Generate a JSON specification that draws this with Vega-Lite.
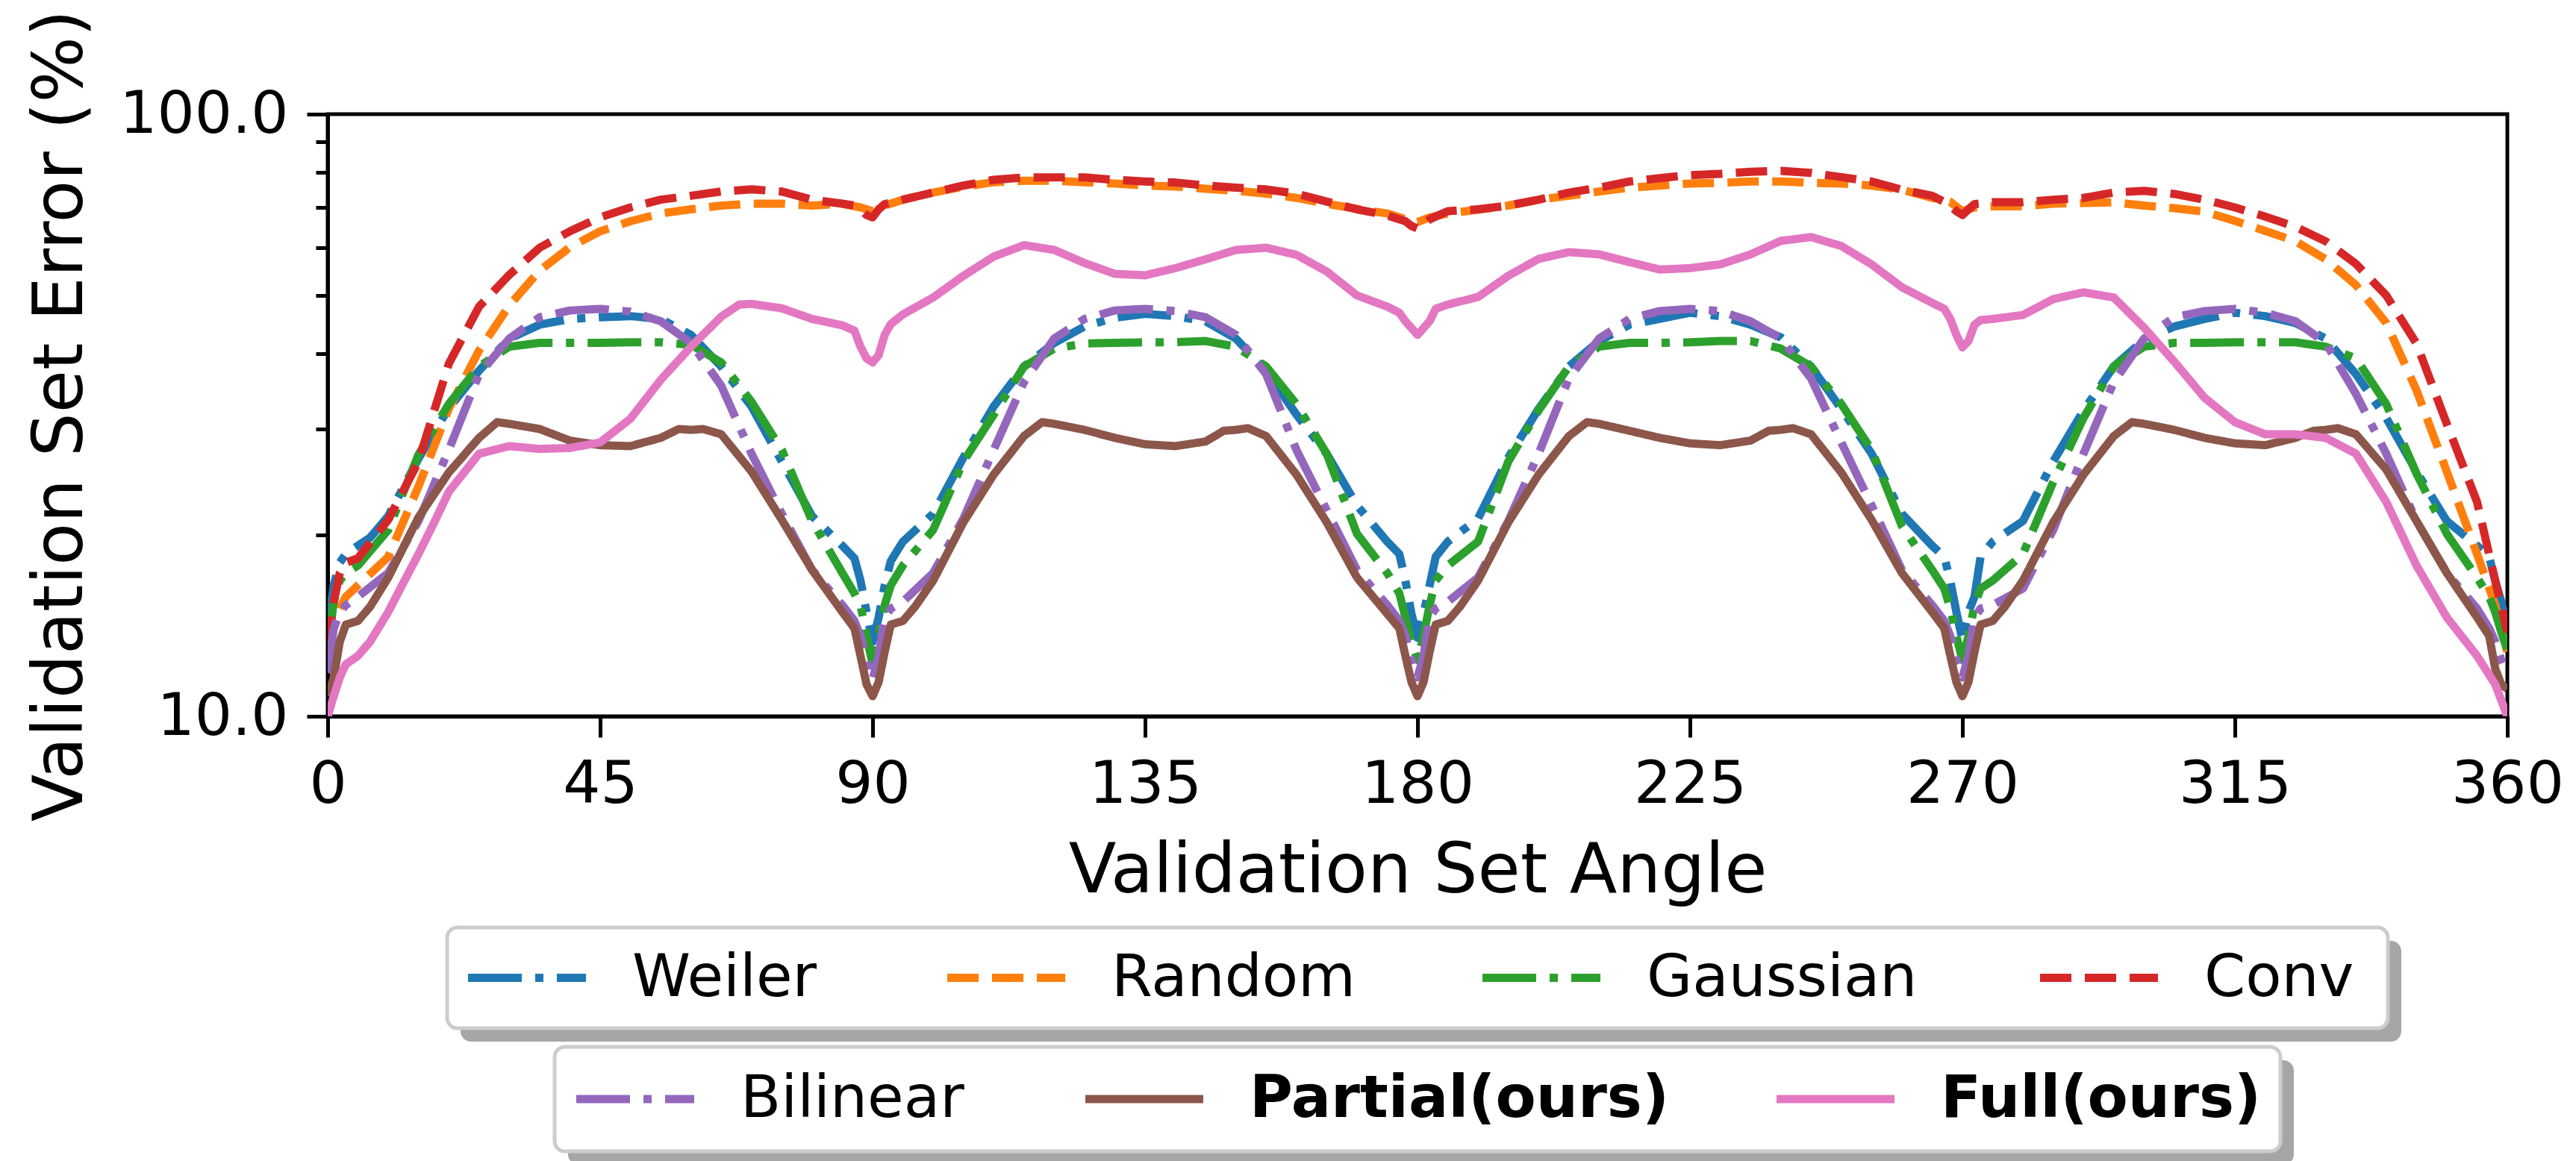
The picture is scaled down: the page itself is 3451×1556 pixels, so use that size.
{
  "$schema": "https://vega.github.io/schema/vega-lite/v6.json",
  "background": "white",
  "padding": {"left": 33, "top": 9, "right": 10, "bottom": 0},
  "spacing": 25,
  "center": true,
  "bounds": "flush",
  "config": {
    "font": "DejaVu Sans",
    "view": {"stroke": null},
    "axis": {"grid": false, "domainColor": "black", "domainWidth": 5, "tickColor": "black", "tickWidth": 5, "tickSize": 28, "labelColor": "black", "labelFontSize": 79, "labelFont": "DejaVu Sans", "labelLimit": 0, "maxExtent": 600, "titleColor": "black", "titleFontSize": 93, "titleFontWeight": "normal", "titleFont": "DejaVu Sans", "titleLimit": 0, "zindex": 1}
  },
  "vconcat": [
    {
      "width": 2920,
      "height": 807,
      "view": {"stroke": "black", "strokeWidth": 5},
      "data": {"values": [
{"s":"Weiler","a":0,"v":14.0},{"s":"Weiler","a":1,"v":16.5},{"s":"Weiler","a":2,"v":18.0},{"s":"Weiler","a":3,"v":18.6},{"s":"Weiler","a":5,"v":19.2},{"s":"Weiler","a":7,"v":19.8},{"s":"Weiler","a":10,"v":21.5},{"s":"Weiler","a":15,"v":26.8},{"s":"Weiler","a":20,"v":32.5},{"s":"Weiler","a":25,"v":37.5},{"s":"Weiler","a":30,"v":42.4},{"s":"Weiler","a":35,"v":44.7},{"s":"Weiler","a":40,"v":45.7},{"s":"Weiler","a":45,"v":46.0},{"s":"Weiler","a":50,"v":46.2},{"s":"Weiler","a":55,"v":45.7},{"s":"Weiler","a":60,"v":43.0},{"s":"Weiler","a":65,"v":38.1},{"s":"Weiler","a":70,"v":32.7},{"s":"Weiler","a":75,"v":26.5},{"s":"Weiler","a":80,"v":21.5},{"s":"Weiler","a":85,"v":19.2},{"s":"Weiler","a":87,"v":18.3},{"s":"Weiler","a":88,"v":16.8},{"s":"Weiler","a":89,"v":14.9},{"s":"Weiler","a":90,"v":13.3},{"s":"Weiler","a":91,"v":14.6},{"s":"Weiler","a":92,"v":16.5},{"s":"Weiler","a":93,"v":18.1},{"s":"Weiler","a":95,"v":19.5},{"s":"Weiler","a":100,"v":21.7},{"s":"Weiler","a":105,"v":26.9},{"s":"Weiler","a":110,"v":32.7},{"s":"Weiler","a":115,"v":38.1},{"s":"Weiler","a":120,"v":41.7},{"s":"Weiler","a":125,"v":44.4},{"s":"Weiler","a":130,"v":45.9},{"s":"Weiler","a":135,"v":46.6},{"s":"Weiler","a":140,"v":46.2},{"s":"Weiler","a":145,"v":45.3},{"s":"Weiler","a":150,"v":42.4},{"s":"Weiler","a":155,"v":37.5},{"s":"Weiler","a":160,"v":31.7},{"s":"Weiler","a":165,"v":27.3},{"s":"Weiler","a":170,"v":22.4},{"s":"Weiler","a":175,"v":19.5},{"s":"Weiler","a":177,"v":18.6},{"s":"Weiler","a":178,"v":16.8},{"s":"Weiler","a":179,"v":14.8},{"s":"Weiler","a":180,"v":13.5},{"s":"Weiler","a":181,"v":14.8},{"s":"Weiler","a":182,"v":16.5},{"s":"Weiler","a":183,"v":18.4},{"s":"Weiler","a":185,"v":19.5},{"s":"Weiler","a":190,"v":21.3},{"s":"Weiler","a":195,"v":26.9},{"s":"Weiler","a":200,"v":32.4},{"s":"Weiler","a":205,"v":38.1},{"s":"Weiler","a":210,"v":42.0},{"s":"Weiler","a":215,"v":44.7},{"s":"Weiler","a":220,"v":45.7},{"s":"Weiler","a":225,"v":46.8},{"s":"Weiler","a":230,"v":46.2},{"s":"Weiler","a":235,"v":44.7},{"s":"Weiler","a":240,"v":42.6},{"s":"Weiler","a":245,"v":38.1},{"s":"Weiler","a":250,"v":32.4},{"s":"Weiler","a":255,"v":27.3},{"s":"Weiler","a":260,"v":21.7},{"s":"Weiler","a":265,"v":19.2},{"s":"Weiler","a":267,"v":18.4},{"s":"Weiler","a":268,"v":16.8},{"s":"Weiler","a":269,"v":14.9},{"s":"Weiler","a":270,"v":13.4},{"s":"Weiler","a":271,"v":14.9},{"s":"Weiler","a":272,"v":15.8},{"s":"Weiler","a":273,"v":18.4},{"s":"Weiler","a":275,"v":19.5},{"s":"Weiler","a":280,"v":21.1},{"s":"Weiler","a":285,"v":26.5},{"s":"Weiler","a":290,"v":32.2},{"s":"Weiler","a":295,"v":38.1},{"s":"Weiler","a":300,"v":42.2},{"s":"Weiler","a":305,"v":44.4},{"s":"Weiler","a":310,"v":45.7},{"s":"Weiler","a":315,"v":46.8},{"s":"Weiler","a":320,"v":46.2},{"s":"Weiler","a":325,"v":45.0},{"s":"Weiler","a":330,"v":42.4},{"s":"Weiler","a":335,"v":37.0},{"s":"Weiler","a":340,"v":31.3},{"s":"Weiler","a":345,"v":25.5},{"s":"Weiler","a":350,"v":21.1},{"s":"Weiler","a":355,"v":19.2},{"s":"Weiler","a":357,"v":18.4},{"s":"Weiler","a":358,"v":16.8},{"s":"Weiler","a":359,"v":15.5},{"s":"Weiler","a":360,"v":14.0},
{"s":"Random","a":0,"v":12.8},{"s":"Random","a":1,"v":14.0},{"s":"Random","a":2,"v":15.1},{"s":"Random","a":3,"v":15.8},{"s":"Random","a":5,"v":16.5},{"s":"Random","a":10,"v":18.4},{"s":"Random","a":15,"v":24.1},{"s":"Random","a":20,"v":32.4},{"s":"Random","a":25,"v":40.5},{"s":"Random","a":30,"v":48.1},{"s":"Random","a":35,"v":55.0},{"s":"Random","a":40,"v":60.1},{"s":"Random","a":45,"v":63.9},{"s":"Random","a":50,"v":66.4},{"s":"Random","a":55,"v":68.4},{"s":"Random","a":60,"v":69.5},{"s":"Random","a":65,"v":70.5},{"s":"Random","a":70,"v":71.0},{"s":"Random","a":75,"v":71.0},{"s":"Random","a":80,"v":70.5},{"s":"Random","a":85,"v":71.0},{"s":"Random","a":88,"v":70.0},{"s":"Random","a":90,"v":69.0},{"s":"Random","a":92,"v":70.5},{"s":"Random","a":95,"v":72.1},{"s":"Random","a":100,"v":74.1},{"s":"Random","a":105,"v":75.8},{"s":"Random","a":110,"v":77.1},{"s":"Random","a":115,"v":77.5},{"s":"Random","a":120,"v":77.5},{"s":"Random","a":125,"v":77.1},{"s":"Random","a":130,"v":76.7},{"s":"Random","a":135,"v":76.1},{"s":"Random","a":140,"v":75.8},{"s":"Random","a":145,"v":75.2},{"s":"Random","a":150,"v":74.6},{"s":"Random","a":155,"v":73.8},{"s":"Random","a":160,"v":72.6},{"s":"Random","a":165,"v":71.0},{"s":"Random","a":170,"v":69.6},{"s":"Random","a":175,"v":68.4},{"s":"Random","a":178,"v":66.9},{"s":"Random","a":180,"v":66.2},{"s":"Random","a":182,"v":67.4},{"s":"Random","a":185,"v":68.4},{"s":"Random","a":190,"v":69.4},{"s":"Random","a":195,"v":70.5},{"s":"Random","a":200,"v":72.1},{"s":"Random","a":205,"v":73.2},{"s":"Random","a":210,"v":74.4},{"s":"Random","a":215,"v":75.5},{"s":"Random","a":220,"v":76.1},{"s":"Random","a":225,"v":76.7},{"s":"Random","a":230,"v":76.9},{"s":"Random","a":235,"v":77.3},{"s":"Random","a":240,"v":77.3},{"s":"Random","a":245,"v":76.9},{"s":"Random","a":250,"v":76.7},{"s":"Random","a":255,"v":76.1},{"s":"Random","a":260,"v":74.9},{"s":"Random","a":265,"v":72.6},{"s":"Random","a":268,"v":71.5},{"s":"Random","a":270,"v":69.0},{"s":"Random","a":272,"v":70.0},{"s":"Random","a":275,"v":70.3},{"s":"Random","a":280,"v":70.3},{"s":"Random","a":285,"v":71.0},{"s":"Random","a":290,"v":71.2},{"s":"Random","a":295,"v":71.4},{"s":"Random","a":300,"v":70.5},{"s":"Random","a":305,"v":69.8},{"s":"Random","a":310,"v":68.9},{"s":"Random","a":315,"v":66.5},{"s":"Random","a":320,"v":64.0},{"s":"Random","a":325,"v":61.5},{"s":"Random","a":330,"v":57.4},{"s":"Random","a":335,"v":52.0},{"s":"Random","a":340,"v":45.0},{"s":"Random","a":345,"v":34.8},{"s":"Random","a":350,"v":25.5},{"s":"Random","a":355,"v":18.6},{"s":"Random","a":358,"v":15.3},{"s":"Random","a":360,"v":12.8},
{"s":"Gaussian","a":0,"v":12.9},{"s":"Gaussian","a":1,"v":15.5},{"s":"Gaussian","a":2,"v":16.8},{"s":"Gaussian","a":3,"v":17.3},{"s":"Gaussian","a":5,"v":17.8},{"s":"Gaussian","a":10,"v":20.4},{"s":"Gaussian","a":15,"v":27.2},{"s":"Gaussian","a":20,"v":33.0},{"s":"Gaussian","a":25,"v":38.1},{"s":"Gaussian","a":30,"v":41.1},{"s":"Gaussian","a":35,"v":41.7},{"s":"Gaussian","a":40,"v":41.7},{"s":"Gaussian","a":45,"v":41.7},{"s":"Gaussian","a":50,"v":41.8},{"s":"Gaussian","a":55,"v":41.8},{"s":"Gaussian","a":60,"v":41.4},{"s":"Gaussian","a":65,"v":38.7},{"s":"Gaussian","a":70,"v":33.3},{"s":"Gaussian","a":75,"v":27.7},{"s":"Gaussian","a":80,"v":21.1},{"s":"Gaussian","a":85,"v":17.3},{"s":"Gaussian","a":87,"v":16.0},{"s":"Gaussian","a":88,"v":15.3},{"s":"Gaussian","a":89,"v":13.6},{"s":"Gaussian","a":90,"v":12.2},{"s":"Gaussian","a":91,"v":13.6},{"s":"Gaussian","a":92,"v":15.3},{"s":"Gaussian","a":93,"v":16.5},{"s":"Gaussian","a":95,"v":17.8},{"s":"Gaussian","a":100,"v":20.4},{"s":"Gaussian","a":105,"v":26.5},{"s":"Gaussian","a":110,"v":31.7},{"s":"Gaussian","a":115,"v":38.1},{"s":"Gaussian","a":120,"v":40.8},{"s":"Gaussian","a":125,"v":41.6},{"s":"Gaussian","a":130,"v":41.7},{"s":"Gaussian","a":135,"v":41.8},{"s":"Gaussian","a":140,"v":41.8},{"s":"Gaussian","a":145,"v":42.0},{"s":"Gaussian","a":150,"v":41.1},{"s":"Gaussian","a":155,"v":38.1},{"s":"Gaussian","a":160,"v":33.0},{"s":"Gaussian","a":165,"v":27.3},{"s":"Gaussian","a":170,"v":20.1},{"s":"Gaussian","a":175,"v":17.3},{"s":"Gaussian","a":177,"v":16.0},{"s":"Gaussian","a":178,"v":14.6},{"s":"Gaussian","a":179,"v":13.3},{"s":"Gaussian","a":180,"v":12.4},{"s":"Gaussian","a":181,"v":13.6},{"s":"Gaussian","a":182,"v":15.3},{"s":"Gaussian","a":183,"v":16.8},{"s":"Gaussian","a":185,"v":17.8},{"s":"Gaussian","a":190,"v":19.5},{"s":"Gaussian","a":195,"v":26.5},{"s":"Gaussian","a":200,"v":32.2},{"s":"Gaussian","a":205,"v":38.1},{"s":"Gaussian","a":210,"v":41.1},{"s":"Gaussian","a":215,"v":41.7},{"s":"Gaussian","a":220,"v":41.7},{"s":"Gaussian","a":225,"v":41.8},{"s":"Gaussian","a":230,"v":42.0},{"s":"Gaussian","a":235,"v":42.0},{"s":"Gaussian","a":240,"v":40.8},{"s":"Gaussian","a":245,"v":38.1},{"s":"Gaussian","a":250,"v":33.0},{"s":"Gaussian","a":255,"v":27.7},{"s":"Gaussian","a":260,"v":20.7},{"s":"Gaussian","a":265,"v":17.5},{"s":"Gaussian","a":267,"v":16.3},{"s":"Gaussian","a":268,"v":15.1},{"s":"Gaussian","a":269,"v":13.6},{"s":"Gaussian","a":270,"v":12.4},{"s":"Gaussian","a":271,"v":13.6},{"s":"Gaussian","a":272,"v":15.3},{"s":"Gaussian","a":273,"v":16.3},{"s":"Gaussian","a":275,"v":16.8},{"s":"Gaussian","a":280,"v":18.6},{"s":"Gaussian","a":285,"v":24.5},{"s":"Gaussian","a":290,"v":31.3},{"s":"Gaussian","a":295,"v":38.1},{"s":"Gaussian","a":300,"v":41.1},{"s":"Gaussian","a":305,"v":41.7},{"s":"Gaussian","a":310,"v":41.7},{"s":"Gaussian","a":315,"v":41.8},{"s":"Gaussian","a":320,"v":41.8},{"s":"Gaussian","a":325,"v":41.8},{"s":"Gaussian","a":330,"v":41.1},{"s":"Gaussian","a":335,"v":39.3},{"s":"Gaussian","a":340,"v":33.0},{"s":"Gaussian","a":345,"v":25.3},{"s":"Gaussian","a":350,"v":20.1},{"s":"Gaussian","a":355,"v":17.0},{"s":"Gaussian","a":357,"v":15.8},{"s":"Gaussian","a":358,"v":14.9},{"s":"Gaussian","a":359,"v":13.8},{"s":"Gaussian","a":360,"v":12.9},
{"s":"Conv","a":0,"v":13.0},{"s":"Conv","a":1,"v":15.5},{"s":"Conv","a":2,"v":17.3},{"s":"Conv","a":3,"v":18.0},{"s":"Conv","a":5,"v":18.3},{"s":"Conv","a":10,"v":21.2},{"s":"Conv","a":15,"v":26.5},{"s":"Conv","a":20,"v":38.5},{"s":"Conv","a":25,"v":47.9},{"s":"Conv","a":30,"v":54.1},{"s":"Conv","a":35,"v":60.0},{"s":"Conv","a":40,"v":63.9},{"s":"Conv","a":45,"v":67.4},{"s":"Conv","a":50,"v":70.0},{"s":"Conv","a":55,"v":72.1},{"s":"Conv","a":60,"v":73.2},{"s":"Conv","a":65,"v":74.4},{"s":"Conv","a":70,"v":75.0},{"s":"Conv","a":75,"v":74.4},{"s":"Conv","a":80,"v":72.1},{"s":"Conv","a":85,"v":71.0},{"s":"Conv","a":87,"v":70.5},{"s":"Conv","a":88,"v":69.4},{"s":"Conv","a":89,"v":68.0},{"s":"Conv","a":90,"v":67.4},{"s":"Conv","a":91,"v":69.5},{"s":"Conv","a":92,"v":70.9},{"s":"Conv","a":95,"v":72.1},{"s":"Conv","a":100,"v":74.1},{"s":"Conv","a":105,"v":76.1},{"s":"Conv","a":110,"v":77.8},{"s":"Conv","a":115,"v":78.5},{"s":"Conv","a":120,"v":78.5},{"s":"Conv","a":125,"v":78.5},{"s":"Conv","a":130,"v":77.8},{"s":"Conv","a":135,"v":77.3},{"s":"Conv","a":140,"v":77.0},{"s":"Conv","a":145,"v":76.1},{"s":"Conv","a":150,"v":75.5},{"s":"Conv","a":155,"v":75.0},{"s":"Conv","a":160,"v":73.8},{"s":"Conv","a":165,"v":71.6},{"s":"Conv","a":170,"v":69.5},{"s":"Conv","a":175,"v":67.9},{"s":"Conv","a":178,"v":66.4},{"s":"Conv","a":179,"v":65.2},{"s":"Conv","a":180,"v":64.6},{"s":"Conv","a":181,"v":65.5},{"s":"Conv","a":182,"v":66.9},{"s":"Conv","a":185,"v":69.0},{"s":"Conv","a":190,"v":69.5},{"s":"Conv","a":195,"v":70.5},{"s":"Conv","a":200,"v":72.1},{"s":"Conv","a":205,"v":74.1},{"s":"Conv","a":210,"v":75.5},{"s":"Conv","a":215,"v":77.3},{"s":"Conv","a":220,"v":78.3},{"s":"Conv","a":225,"v":79.2},{"s":"Conv","a":230,"v":79.6},{"s":"Conv","a":235,"v":80.2},{"s":"Conv","a":240,"v":80.5},{"s":"Conv","a":245,"v":79.9},{"s":"Conv","a":250,"v":78.6},{"s":"Conv","a":255,"v":77.3},{"s":"Conv","a":260,"v":74.9},{"s":"Conv","a":265,"v":73.2},{"s":"Conv","a":267,"v":71.5},{"s":"Conv","a":268,"v":70.5},{"s":"Conv","a":269,"v":69.0},{"s":"Conv","a":270,"v":68.0},{"s":"Conv","a":271,"v":69.5},{"s":"Conv","a":272,"v":70.9},{"s":"Conv","a":275,"v":71.4},{"s":"Conv","a":280,"v":71.4},{"s":"Conv","a":285,"v":72.1},{"s":"Conv","a":290,"v":72.6},{"s":"Conv","a":295,"v":74.1},{"s":"Conv","a":300,"v":74.6},{"s":"Conv","a":305,"v":73.7},{"s":"Conv","a":310,"v":72.1},{"s":"Conv","a":315,"v":70.0},{"s":"Conv","a":320,"v":67.6},{"s":"Conv","a":325,"v":65.0},{"s":"Conv","a":330,"v":61.5},{"s":"Conv","a":335,"v":56.4},{"s":"Conv","a":340,"v":50.0},{"s":"Conv","a":345,"v":41.6},{"s":"Conv","a":350,"v":30.6},{"s":"Conv","a":355,"v":22.7},{"s":"Conv","a":358,"v":16.8},{"s":"Conv","a":360,"v":13.8},
{"s":"Bilinear","a":0,"v":11.8},{"s":"Bilinear","a":1,"v":14.0},{"s":"Bilinear","a":2,"v":14.9},{"s":"Bilinear","a":3,"v":15.3},{"s":"Bilinear","a":5,"v":15.8},{"s":"Bilinear","a":10,"v":17.3},{"s":"Bilinear","a":15,"v":21.1},{"s":"Bilinear","a":20,"v":27.7},{"s":"Bilinear","a":25,"v":37.0},{"s":"Bilinear","a":30,"v":42.4},{"s":"Bilinear","a":35,"v":46.0},{"s":"Bilinear","a":40,"v":47.2},{"s":"Bilinear","a":45,"v":47.5},{"s":"Bilinear","a":50,"v":47.0},{"s":"Bilinear","a":55,"v":45.3},{"s":"Bilinear","a":60,"v":41.7},{"s":"Bilinear","a":65,"v":35.4},{"s":"Bilinear","a":70,"v":27.3},{"s":"Bilinear","a":75,"v":21.7},{"s":"Bilinear","a":80,"v":17.5},{"s":"Bilinear","a":85,"v":15.3},{"s":"Bilinear","a":87,"v":14.4},{"s":"Bilinear","a":88,"v":13.6},{"s":"Bilinear","a":89,"v":12.4},{"s":"Bilinear","a":90,"v":11.5},{"s":"Bilinear","a":91,"v":12.6},{"s":"Bilinear","a":92,"v":14.6},{"s":"Bilinear","a":93,"v":15.1},{"s":"Bilinear","a":95,"v":15.5},{"s":"Bilinear","a":100,"v":17.3},{"s":"Bilinear","a":105,"v":21.3},{"s":"Bilinear","a":110,"v":27.7},{"s":"Bilinear","a":115,"v":35.9},{"s":"Bilinear","a":120,"v":42.4},{"s":"Bilinear","a":125,"v":45.7},{"s":"Bilinear","a":130,"v":47.2},{"s":"Bilinear","a":135,"v":47.5},{"s":"Bilinear","a":140,"v":47.1},{"s":"Bilinear","a":145,"v":46.0},{"s":"Bilinear","a":150,"v":43.0},{"s":"Bilinear","a":155,"v":37.0},{"s":"Bilinear","a":160,"v":27.7},{"s":"Bilinear","a":165,"v":22.0},{"s":"Bilinear","a":170,"v":17.5},{"s":"Bilinear","a":175,"v":15.3},{"s":"Bilinear","a":177,"v":14.4},{"s":"Bilinear","a":178,"v":13.6},{"s":"Bilinear","a":179,"v":12.4},{"s":"Bilinear","a":180,"v":11.6},{"s":"Bilinear","a":181,"v":12.6},{"s":"Bilinear","a":182,"v":14.6},{"s":"Bilinear","a":183,"v":15.1},{"s":"Bilinear","a":185,"v":15.5},{"s":"Bilinear","a":190,"v":17.0},{"s":"Bilinear","a":195,"v":21.1},{"s":"Bilinear","a":200,"v":27.3},{"s":"Bilinear","a":205,"v":36.4},{"s":"Bilinear","a":210,"v":42.4},{"s":"Bilinear","a":215,"v":45.7},{"s":"Bilinear","a":220,"v":47.1},{"s":"Bilinear","a":225,"v":47.5},{"s":"Bilinear","a":230,"v":47.1},{"s":"Bilinear","a":235,"v":45.3},{"s":"Bilinear","a":240,"v":42.4},{"s":"Bilinear","a":245,"v":36.4},{"s":"Bilinear","a":250,"v":28.5},{"s":"Bilinear","a":255,"v":22.4},{"s":"Bilinear","a":260,"v":17.5},{"s":"Bilinear","a":265,"v":15.3},{"s":"Bilinear","a":267,"v":14.4},{"s":"Bilinear","a":268,"v":13.6},{"s":"Bilinear","a":269,"v":12.4},{"s":"Bilinear","a":270,"v":11.6},{"s":"Bilinear","a":271,"v":12.6},{"s":"Bilinear","a":272,"v":14.6},{"s":"Bilinear","a":273,"v":15.1},{"s":"Bilinear","a":275,"v":15.3},{"s":"Bilinear","a":280,"v":16.3},{"s":"Bilinear","a":285,"v":20.4},{"s":"Bilinear","a":290,"v":27.3},{"s":"Bilinear","a":295,"v":35.9},{"s":"Bilinear","a":300,"v":42.4},{"s":"Bilinear","a":305,"v":46.0},{"s":"Bilinear","a":310,"v":47.1},{"s":"Bilinear","a":315,"v":47.5},{"s":"Bilinear","a":320,"v":46.8},{"s":"Bilinear","a":325,"v":45.3},{"s":"Bilinear","a":330,"v":41.7},{"s":"Bilinear","a":335,"v":34.3},{"s":"Bilinear","a":340,"v":27.3},{"s":"Bilinear","a":345,"v":21.1},{"s":"Bilinear","a":350,"v":17.3},{"s":"Bilinear","a":355,"v":15.1},{"s":"Bilinear","a":357,"v":14.0},{"s":"Bilinear","a":358,"v":13.3},{"s":"Bilinear","a":359,"v":12.4},{"s":"Bilinear","a":360,"v":11.8},
{"s":"Partial(ours)","a":0,"v":10.8},{"s":"Partial(ours)","a":1,"v":11.6},{"s":"Partial(ours)","a":2,"v":13.3},{"s":"Partial(ours)","a":3,"v":14.2},{"s":"Partial(ours)","a":5,"v":14.4},{"s":"Partial(ours)","a":7,"v":15.2},{"s":"Partial(ours)","a":10,"v":17.0},{"s":"Partial(ours)","a":15,"v":21.4},{"s":"Partial(ours)","a":20,"v":25.4},{"s":"Partial(ours)","a":25,"v":29.0},{"s":"Partial(ours)","a":28,"v":30.8},{"s":"Partial(ours)","a":30,"v":30.6},{"s":"Partial(ours)","a":35,"v":30.0},{"s":"Partial(ours)","a":40,"v":28.7},{"s":"Partial(ours)","a":45,"v":28.2},{"s":"Partial(ours)","a":50,"v":28.1},{"s":"Partial(ours)","a":55,"v":29.0},{"s":"Partial(ours)","a":58,"v":30.0},{"s":"Partial(ours)","a":60,"v":29.9},{"s":"Partial(ours)","a":62,"v":30.0},{"s":"Partial(ours)","a":65,"v":29.4},{"s":"Partial(ours)","a":70,"v":25.5},{"s":"Partial(ours)","a":75,"v":21.2},{"s":"Partial(ours)","a":80,"v":17.5},{"s":"Partial(ours)","a":85,"v":14.9},{"s":"Partial(ours)","a":87,"v":14.0},{"s":"Partial(ours)","a":88,"v":12.6},{"s":"Partial(ours)","a":89,"v":11.3},{"s":"Partial(ours)","a":90,"v":10.8},{"s":"Partial(ours)","a":91,"v":11.4},{"s":"Partial(ours)","a":92,"v":12.8},{"s":"Partial(ours)","a":93,"v":14.2},{"s":"Partial(ours)","a":95,"v":14.4},{"s":"Partial(ours)","a":97,"v":15.2},{"s":"Partial(ours)","a":100,"v":16.8},{"s":"Partial(ours)","a":105,"v":21.0},{"s":"Partial(ours)","a":110,"v":25.2},{"s":"Partial(ours)","a":115,"v":29.2},{"s":"Partial(ours)","a":118,"v":30.8},{"s":"Partial(ours)","a":120,"v":30.6},{"s":"Partial(ours)","a":125,"v":29.9},{"s":"Partial(ours)","a":130,"v":29.0},{"s":"Partial(ours)","a":135,"v":28.3},{"s":"Partial(ours)","a":140,"v":28.1},{"s":"Partial(ours)","a":145,"v":28.6},{"s":"Partial(ours)","a":148,"v":29.8},{"s":"Partial(ours)","a":150,"v":29.9},{"s":"Partial(ours)","a":152,"v":30.1},{"s":"Partial(ours)","a":155,"v":29.2},{"s":"Partial(ours)","a":160,"v":25.2},{"s":"Partial(ours)","a":165,"v":21.0},{"s":"Partial(ours)","a":170,"v":17.0},{"s":"Partial(ours)","a":175,"v":14.8},{"s":"Partial(ours)","a":177,"v":14.0},{"s":"Partial(ours)","a":178,"v":12.6},{"s":"Partial(ours)","a":179,"v":11.4},{"s":"Partial(ours)","a":180,"v":10.8},{"s":"Partial(ours)","a":181,"v":11.4},{"s":"Partial(ours)","a":182,"v":12.8},{"s":"Partial(ours)","a":183,"v":14.2},{"s":"Partial(ours)","a":185,"v":14.4},{"s":"Partial(ours)","a":187,"v":15.2},{"s":"Partial(ours)","a":190,"v":16.8},{"s":"Partial(ours)","a":195,"v":21.0},{"s":"Partial(ours)","a":200,"v":25.2},{"s":"Partial(ours)","a":205,"v":29.2},{"s":"Partial(ours)","a":208,"v":30.8},{"s":"Partial(ours)","a":210,"v":30.6},{"s":"Partial(ours)","a":215,"v":29.8},{"s":"Partial(ours)","a":220,"v":29.0},{"s":"Partial(ours)","a":225,"v":28.4},{"s":"Partial(ours)","a":230,"v":28.2},{"s":"Partial(ours)","a":235,"v":28.7},{"s":"Partial(ours)","a":238,"v":29.8},{"s":"Partial(ours)","a":240,"v":29.9},{"s":"Partial(ours)","a":242,"v":30.1},{"s":"Partial(ours)","a":245,"v":29.4},{"s":"Partial(ours)","a":250,"v":25.4},{"s":"Partial(ours)","a":255,"v":21.2},{"s":"Partial(ours)","a":260,"v":17.3},{"s":"Partial(ours)","a":265,"v":14.9},{"s":"Partial(ours)","a":267,"v":14.0},{"s":"Partial(ours)","a":268,"v":12.6},{"s":"Partial(ours)","a":269,"v":11.4},{"s":"Partial(ours)","a":270,"v":10.8},{"s":"Partial(ours)","a":271,"v":11.4},{"s":"Partial(ours)","a":272,"v":12.8},{"s":"Partial(ours)","a":273,"v":14.2},{"s":"Partial(ours)","a":275,"v":14.4},{"s":"Partial(ours)","a":277,"v":15.2},{"s":"Partial(ours)","a":280,"v":16.8},{"s":"Partial(ours)","a":285,"v":21.0},{"s":"Partial(ours)","a":290,"v":25.2},{"s":"Partial(ours)","a":295,"v":29.2},{"s":"Partial(ours)","a":298,"v":30.8},{"s":"Partial(ours)","a":300,"v":30.6},{"s":"Partial(ours)","a":305,"v":29.9},{"s":"Partial(ours)","a":310,"v":29.0},{"s":"Partial(ours)","a":315,"v":28.4},{"s":"Partial(ours)","a":320,"v":28.2},{"s":"Partial(ours)","a":325,"v":29.0},{"s":"Partial(ours)","a":328,"v":29.8},{"s":"Partial(ours)","a":330,"v":29.9},{"s":"Partial(ours)","a":332,"v":30.1},{"s":"Partial(ours)","a":335,"v":29.4},{"s":"Partial(ours)","a":340,"v":25.7},{"s":"Partial(ours)","a":345,"v":21.1},{"s":"Partial(ours)","a":350,"v":17.3},{"s":"Partial(ours)","a":355,"v":14.6},{"s":"Partial(ours)","a":357,"v":13.6},{"s":"Partial(ours)","a":358,"v":12.0},{"s":"Partial(ours)","a":359,"v":11.3},{"s":"Partial(ours)","a":360,"v":11.1},
{"s":"Full(ours)","a":0,"v":10.0},{"s":"Full(ours)","a":1,"v":10.8},{"s":"Full(ours)","a":2,"v":11.6},{"s":"Full(ours)","a":3,"v":12.2},{"s":"Full(ours)","a":5,"v":12.6},{"s":"Full(ours)","a":7,"v":13.3},{"s":"Full(ours)","a":10,"v":14.9},{"s":"Full(ours)","a":12,"v":16.3},{"s":"Full(ours)","a":15,"v":18.6},{"s":"Full(ours)","a":18,"v":21.4},{"s":"Full(ours)","a":20,"v":23.6},{"s":"Full(ours)","a":25,"v":27.3},{"s":"Full(ours)","a":30,"v":28.1},{"s":"Full(ours)","a":35,"v":27.8},{"s":"Full(ours)","a":40,"v":27.9},{"s":"Full(ours)","a":45,"v":28.5},{"s":"Full(ours)","a":50,"v":31.2},{"s":"Full(ours)","a":55,"v":36.2},{"s":"Full(ours)","a":60,"v":41.1},{"s":"Full(ours)","a":65,"v":46.1},{"s":"Full(ours)","a":68,"v":48.3},{"s":"Full(ours)","a":70,"v":48.4},{"s":"Full(ours)","a":75,"v":47.6},{"s":"Full(ours)","a":80,"v":45.7},{"s":"Full(ours)","a":85,"v":44.6},{"s":"Full(ours)","a":87,"v":43.7},{"s":"Full(ours)","a":88,"v":41.1},{"s":"Full(ours)","a":89,"v":39.3},{"s":"Full(ours)","a":90,"v":38.7},{"s":"Full(ours)","a":91,"v":39.8},{"s":"Full(ours)","a":92,"v":43.0},{"s":"Full(ours)","a":93,"v":44.8},{"s":"Full(ours)","a":95,"v":46.5},{"s":"Full(ours)","a":100,"v":49.6},{"s":"Full(ours)","a":105,"v":53.9},{"s":"Full(ours)","a":110,"v":58.0},{"s":"Full(ours)","a":115,"v":60.6},{"s":"Full(ours)","a":120,"v":59.5},{"s":"Full(ours)","a":125,"v":56.6},{"s":"Full(ours)","a":130,"v":54.3},{"s":"Full(ours)","a":135,"v":54.0},{"s":"Full(ours)","a":140,"v":55.5},{"s":"Full(ours)","a":145,"v":57.4},{"s":"Full(ours)","a":150,"v":59.5},{"s":"Full(ours)","a":155,"v":60.0},{"s":"Full(ours)","a":160,"v":58.4},{"s":"Full(ours)","a":165,"v":54.8},{"s":"Full(ours)","a":170,"v":50.0},{"s":"Full(ours)","a":175,"v":47.9},{"s":"Full(ours)","a":177,"v":46.8},{"s":"Full(ours)","a":178,"v":45.3},{"s":"Full(ours)","a":180,"v":43.0},{"s":"Full(ours)","a":182,"v":45.3},{"s":"Full(ours)","a":183,"v":47.5},{"s":"Full(ours)","a":185,"v":48.3},{"s":"Full(ours)","a":190,"v":49.7},{"s":"Full(ours)","a":195,"v":53.9},{"s":"Full(ours)","a":200,"v":57.5},{"s":"Full(ours)","a":205,"v":59.0},{"s":"Full(ours)","a":210,"v":58.5},{"s":"Full(ours)","a":215,"v":56.8},{"s":"Full(ours)","a":220,"v":55.2},{"s":"Full(ours)","a":225,"v":55.5},{"s":"Full(ours)","a":230,"v":56.3},{"s":"Full(ours)","a":235,"v":58.5},{"s":"Full(ours)","a":240,"v":61.6},{"s":"Full(ours)","a":245,"v":62.5},{"s":"Full(ours)","a":250,"v":60.4},{"s":"Full(ours)","a":255,"v":56.3},{"s":"Full(ours)","a":260,"v":51.6},{"s":"Full(ours)","a":265,"v":48.6},{"s":"Full(ours)","a":267,"v":47.5},{"s":"Full(ours)","a":268,"v":45.7},{"s":"Full(ours)","a":269,"v":43.0},{"s":"Full(ours)","a":270,"v":41.0},{"s":"Full(ours)","a":271,"v":42.0},{"s":"Full(ours)","a":272,"v":44.7},{"s":"Full(ours)","a":273,"v":45.5},{"s":"Full(ours)","a":275,"v":45.7},{"s":"Full(ours)","a":280,"v":46.4},{"s":"Full(ours)","a":285,"v":49.3},{"s":"Full(ours)","a":290,"v":50.6},{"s":"Full(ours)","a":295,"v":49.6},{"s":"Full(ours)","a":300,"v":44.2},{"s":"Full(ours)","a":305,"v":38.8},{"s":"Full(ours)","a":310,"v":33.8},{"s":"Full(ours)","a":315,"v":30.8},{"s":"Full(ours)","a":320,"v":29.4},{"s":"Full(ours)","a":325,"v":29.4},{"s":"Full(ours)","a":330,"v":29.0},{"s":"Full(ours)","a":335,"v":27.3},{"s":"Full(ours)","a":340,"v":22.7},{"s":"Full(ours)","a":345,"v":17.8},{"s":"Full(ours)","a":350,"v":14.6},{"s":"Full(ours)","a":355,"v":12.6},{"s":"Full(ours)","a":358,"v":11.3},{"s":"Full(ours)","a":360,"v":10.0}
      ]},
      "mark": {"type": "line", "strokeWidth": 11, "strokeCap": "butt", "strokeJoin": "round", "clip": true},
      "encoding": {
        "x": {"field": "a", "type": "quantitative", "scale": {"domain": [0, 360], "nice": false, "zero": false},
              "axis": {"title": "Validation Set Angle", "values": [0,45,90,135,180,225,270,315,360], "format": "d", "labelFlush": false, "labelOverlap": false, "labelPadding": 25, "titlePadding": 31}},
        "y": {"field": "v", "type": "quantitative", "scale": {"type": "log", "domain": [10, 100], "nice": false},
              "axis": {"title": "Validation Set Error (%)", "values": [10,20,30,40,50,60,70,80,90,100],
                       "labelExpr": "datum.value == 10 || datum.value == 100 ? format(datum.value, '.1f') : ''",
                       "tickSize": {"condition": {"test": "datum.value == 10 || datum.value == 100", "value": 28}, "value": 16},
                       "labelOverlap": false, "labelPadding": 25, "titlePadding": 30}},
        "color": {"field": "s", "type": "nominal", "legend": null,
                  "scale": {"domain": ["Weiler","Random","Gaussian","Conv","Bilinear","Partial(ours)","Full(ours)"], "range": ["#1f77b4","#ff7f0e","#2ca02c","#d62728","#9467bd","#8c564b","#e377c2"]}},
        "strokeDash": {"field": "s", "type": "nominal", "legend": null,
                  "scale": {"domain": ["Weiler","Random","Gaussian","Conv","Bilinear","Partial(ours)","Full(ours)"], "range": [[72,18,11,18],[42,18],[72,18,11,18],[42,18],[72,18,11,18],[1,0],[1,0]]}}
      }
    },
    {
      "width": 10, "height": 233,
      "data": {"values": []},
      "mark": "point",
      "encoding": {}
    },
    {
      "width": 2600, "height": 135,
      "data": {"values": [{"s":"Weiler","col":0},{"s":"Random","col":1},{"s":"Gaussian","col":2},{"s":"Conv","col":3}]},
      "layer": [
        {"data": {"values": [{"box": "legend"}]},
         "mark": {"type": "rect", "fill": "#a6a6a6", "cornerRadius": 14, "xOffset": 18, "x2Offset": 18, "yOffset": 18, "y2Offset": 18},
         "encoding": {"x": {"value": 0}, "x2": {"value": "width"}, "y": {"value": 0}, "y2": {"value": "height"}}},
        {"data": {"values": [{"box": "legend"}]},
         "mark": {"type": "rect", "fill": "white", "stroke": "#cccccc", "strokeWidth": 5, "cornerRadius": 14},
         "encoding": {"x": {"value": 0}, "x2": {"value": "width"}, "y": {"value": 0}, "y2": {"value": "height"}}},
        {"mark": {"type": "rule", "strokeWidth": 11, "strokeCap": "butt", "x2Offset": 158},
         "encoding": {
           "x": {"field": "col", "type": "quantitative", "axis": null, "scale": {"domain": [0,1,2,3], "range": [28,670,1387,2134], "nice": false, "zero": false}},
           "x2": {"field": "col"},
           "color": {"field": "s", "type": "nominal", "legend": null,
                     "scale": {"domain": ["Weiler","Random","Gaussian","Conv","Bilinear","Partial(ours)","Full(ours)"], "range": ["#1f77b4","#ff7f0e","#2ca02c","#d62728","#9467bd","#8c564b","#e377c2"]}},
           "strokeDash": {"field": "s", "type": "nominal", "legend": null,
                     "scale": {"domain": ["Weiler","Random","Gaussian","Conv","Bilinear","Partial(ours)","Full(ours)"], "range": [[72,18,11,18],[42,18],[72,18,11,18],[42,18],[72,18,11,18],[1,0],[1,0]]}}
         }},
        {"mark": {"type": "text", "align": "left", "baseline": "middle", "dx": 220, "fontSize": 79, "color": "black", "font": "DejaVu Sans"},
         "encoding": {"x": {"field": "col", "type": "quantitative", "axis": null}, "text": {"field": "s"}}}
      ]
    },
    {
      "width": 2312, "height": 140,
      "data": {"values": [{"s":"Bilinear","col":0},{"s":"Partial(ours)","col":1},{"s":"Full(ours)","col":2}]},
      "layer": [
        {"data": {"values": [{"box": "legend"}]},
         "mark": {"type": "rect", "fill": "#a6a6a6", "cornerRadius": 14, "xOffset": 18, "x2Offset": 18, "yOffset": 18, "y2Offset": 18},
         "encoding": {"x": {"value": 0}, "x2": {"value": "width"}, "y": {"value": 0}, "y2": {"value": "height"}}},
        {"data": {"values": [{"box": "legend"}]},
         "mark": {"type": "rect", "fill": "white", "stroke": "#cccccc", "strokeWidth": 5, "cornerRadius": 14},
         "encoding": {"x": {"value": 0}, "x2": {"value": "width"}, "y": {"value": 0}, "y2": {"value": "height"}}},
        {"mark": {"type": "rule", "strokeWidth": 11, "strokeCap": "butt", "x2Offset": 158},
         "encoding": {
           "x": {"field": "col", "type": "quantitative", "axis": null, "scale": {"domain": [0,1,2], "range": [29,711,1637], "nice": false, "zero": false}},
           "x2": {"field": "col"},
           "color": {"field": "s", "type": "nominal", "legend": null,
                     "scale": {"domain": ["Weiler","Random","Gaussian","Conv","Bilinear","Partial(ours)","Full(ours)"], "range": ["#1f77b4","#ff7f0e","#2ca02c","#d62728","#9467bd","#8c564b","#e377c2"]}},
           "strokeDash": {"field": "s", "type": "nominal", "legend": null,
                     "scale": {"domain": ["Weiler","Random","Gaussian","Conv","Bilinear","Partial(ours)","Full(ours)"], "range": [[72,18,11,18],[42,18],[72,18,11,18],[42,18],[72,18,11,18],[1,0],[1,0]]}}
         }},
        {"transform": [{"filter": "datum.s == 'Bilinear'"}],
         "mark": {"type": "text", "align": "left", "baseline": "middle", "dx": 220, "fontSize": 79, "color": "black", "font": "DejaVu Sans"},
         "encoding": {"x": {"field": "col", "type": "quantitative", "axis": null}, "text": {"field": "s"}}},
        {"transform": [{"filter": "datum.s != 'Bilinear'"}],
         "mark": {"type": "text", "align": "left", "baseline": "middle", "dx": 220, "fontSize": 79, "fontWeight": "bold", "color": "black", "font": "DejaVu Sans"},
         "encoding": {"x": {"field": "col", "type": "quantitative", "axis": null}, "text": {"field": "s"}}}
      ]
    }
  ]
}
